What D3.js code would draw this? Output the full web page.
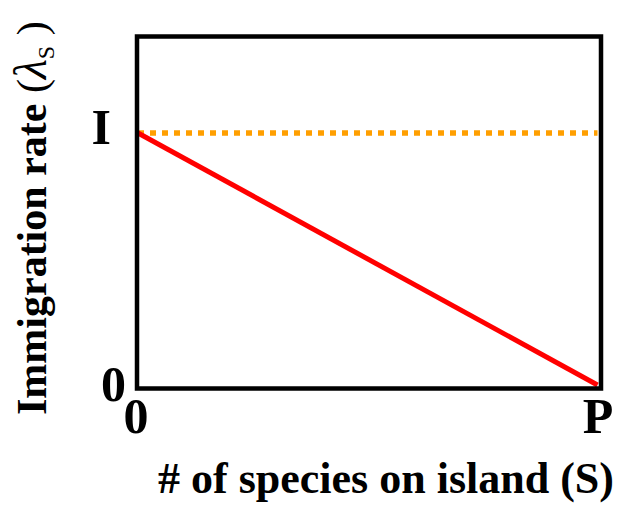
<!DOCTYPE html>
<html><head><meta charset="utf-8">
<script src="https://cdn.jsdelivr.net/npm/d3@7"></script>
<style>body{margin:0;background:#fff}svg{display:block}text{font-family:"Liberation Serif","Times New Roman",serif;font-weight:bold}</style>
</head><body>
<svg id="c" width="617" height="505"></svg>
<script>
// Data
const xTickLabels = ["0", "P"];
const yTickLabels = ["0", "I"];
const xDomain = [0, 1];          // 0 .. P
const yDomain = [0, 1.5];        // 0 .. top of box (I = 1)
const immigrationX = [0, 1];     // S from 0 to P
const immigrationY = [1, 0];     // λS from I to 0
const constantX = [0, 1];
const constantY = [1, 1];        // dotted reference at I

const svg = d3.select("#c");
const L = 137, R = 601, T = 36.5, B = 388.5;
const x = d3.scaleLinear().domain(xDomain).range([L + 1, R - 3.5]);
const y = d3.scaleLinear().domain(yDomain).range([B - 3.5, B - 3.5 - 1.5 * 252]);

// dotted orange line
const line = d3.line().x(d => x(d[0])).y(d => y(d[1]));
svg.append("path")
  .attr("d", line(constantX.map((v, i) => [v, constantY[i]])))
  .attr("fill", "none").attr("stroke", "#ff9f00").attr("stroke-width", 5.5)
  .attr("stroke-dasharray", "6,6");

// red line
svg.append("path")
  .attr("d", line(immigrationX.map((v, i) => [v, immigrationY[i]])))
  .attr("fill", "none").attr("stroke", "#ff0000").attr("stroke-width", 5);

// box
svg.append("rect").attr("x", L).attr("y", T).attr("width", R - L).attr("height", B - T)
  .attr("fill", "none").attr("stroke", "#000").attr("stroke-width", 4.5);

// x tick labels
svg.selectAll(".xt").data(xTickLabels).enter().append("text")
  .attr("x", (d, i) => i === 0 ? 136 : 598)
  .attr("y", 433).attr("text-anchor", "middle").attr("font-size", 50).text(d => d);

// y tick labels
svg.selectAll(".yt").data(yTickLabels).enter().append("text")
  .attr("x", (d, i) => i === 0 ? 126 : 111)
  .attr("y", (d, i) => y(i === 0 ? 0 : 1) + (i === 0 ? 16 : 11))
  .attr("text-anchor", "end").attr("font-size", 50).text(d => d);

// x title
svg.append("text").attr("x", 386).attr("y", 493).attr("text-anchor", "middle")
  .attr("font-size", 44).text("# of species on island (S)");

// y title
const yt = svg.append("text").attr("transform", "translate(46,415) rotate(-90)")
  .attr("text-anchor", "start").attr("font-size", 42);
yt.append("tspan").text("Immigration rate ");
yt.append("tspan").attr("font-weight", "normal").text("(");
yt.append("tspan").attr("font-weight", "normal").attr("font-style", "italic").attr("font-size", 46).text("λ");
yt.append("tspan").attr("font-weight", "normal").attr("font-size", 24).attr("dy", 8).text("S");
yt.append("tspan").attr("dy", -8).attr("font-weight", "normal").text(" )");
</script>
</body></html>
